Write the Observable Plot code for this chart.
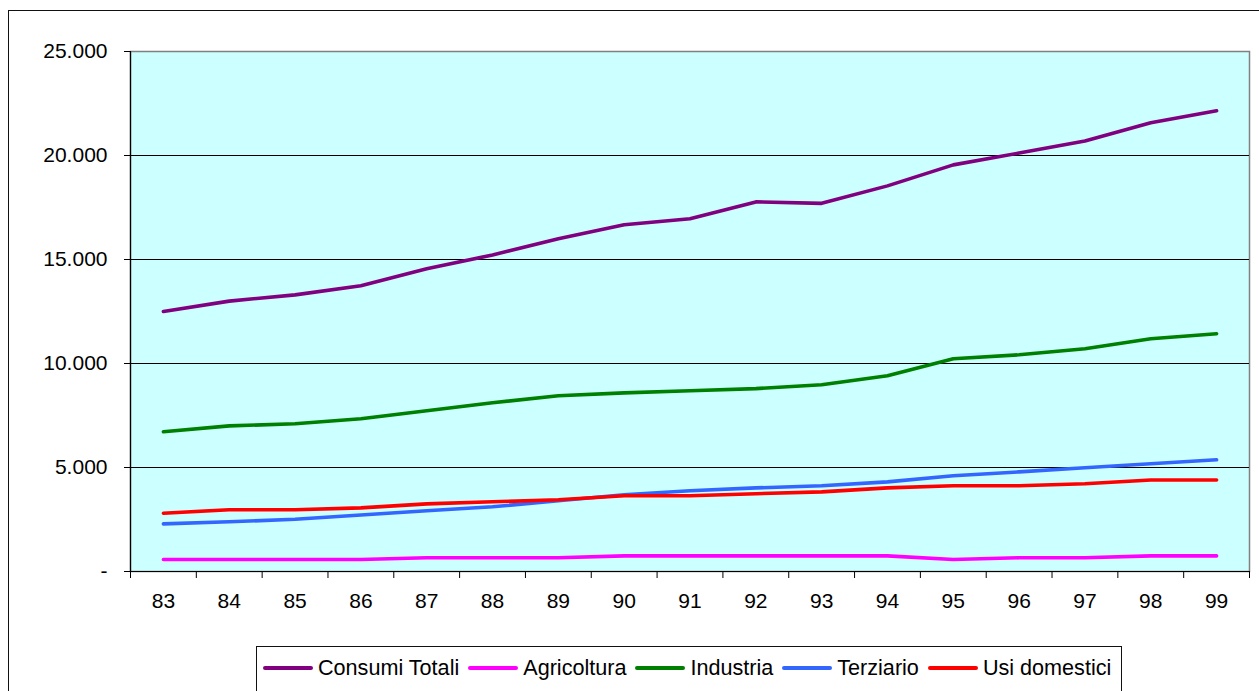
<!DOCTYPE html>
<html>
<head>
<meta charset="utf-8">
<script src="https://cdn.jsdelivr.net/npm/d3@7"></script>
<script src="https://cdn.jsdelivr.net/npm/@observablehq/plot@0.6"></script>
<style>
  html, body { margin: 0; padding: 0; background: #fff; width: 1259px; height: 691px; overflow: hidden; }
  body { position: relative; font-family: "Liberation Sans", Arial, sans-serif; }
  #border { position: absolute; left: 8px; top: 10px; width: 1300px; height: 720px; border: 1.5px solid #111; box-sizing: border-box; }
  #chart { position: absolute; left: 0; top: 0; }
  #legend { position: absolute; left: 256px; top: 646px; width: 866px; height: 50px; border: 1px solid #111; box-sizing: border-box;
            display: flex; align-items: flex-start; padding: 8px 0 0 6px; font-size: 21.6px; color: #000; background: #fff; }
  .item { display: flex; align-items: center; margin-right: 9px; }
  .sw { width: 50px; height: 4px; margin-right: 5px; border-radius: 2px; }
</style>
</head>
<body>
<div id="border"></div>
<div id="chart"></div>
<div id="legend"></div>
<script>
const years = [83, 84, 85, 86, 87, 88, 89, 90, 91, 92, 93, 94, 95, 96, 97, 98, 99];
const seriesNames = ["Consumi Totali", "Agricoltura", "Industria", "Terziario", "Usi domestici"];
const seriesColors = ["#800080", "#FF00FF", "#008000", "#3366FF", "#FF0000"];
const consumiTotali = [12500, 13000, 13300, 13740, 14550, 15220, 16000, 16670, 16960, 17770, 17700, 18540, 19550, 20120, 20700, 21570, 22150];
const agricoltura   = [580, 580, 580, 580, 660, 660, 660, 750, 750, 750, 750, 750, 580, 660, 660, 750, 750];
const industria     = [6720, 7000, 7100, 7340, 7730, 8110, 8450, 8590, 8690, 8790, 8980, 9410, 10230, 10420, 10710, 11190, 11430];
const terziario     = [2290, 2390, 2510, 2720, 2920, 3110, 3400, 3690, 3880, 4020, 4120, 4310, 4600, 4790, 4990, 5180, 5370];
const usiDomestici  = [2800, 2970, 2970, 3060, 3250, 3350, 3450, 3640, 3640, 3740, 3830, 4020, 4120, 4120, 4220, 4400, 4400];
const yTicks = [0, 5000, 10000, 15000, 20000, 25000];

const allSeries = [consumiTotali, agricoltura, industria, terziario, usiDomestici];
const data = [];
allSeries.forEach((vals, i) => vals.forEach((v, j) => data.push({series: seriesNames[i], year: years[j], value: v})));

const xDomain = [years[0] - 0.5, years[years.length - 1] + 0.5];
const boundaries = years.map(y => y - 0.5).concat([years[years.length - 1] + 0.5]);
const loc = d3.formatLocale({decimal: ",", thousands: ".", grouping: [3], currency: ["", ""]});
const fmt = loc.format(",d");

const chart = Plot.plot({
  width: 1259,
  height: 620,
  marginLeft: 130,
  marginRight: 10,
  marginTop: 51,
  marginBottom: 49,
  style: {fontFamily: "'Liberation Sans', Arial, sans-serif", fontSize: "21px", color: "#000", background: "transparent", overflow: "visible"},
  x: {type: "linear", domain: xDomain},
  y: {domain: [yTicks[0], yTicks[yTicks.length - 1]]},
  color: {domain: seriesNames, range: seriesColors},
  marks: [
    Plot.frame({fill: "#CCFFFF", stroke: "#808080", strokeWidth: 1.5}),
    Plot.ruleY(yTicks.slice(1, -1), {stroke: "#000", strokeWidth: 1}),
    Plot.line(data, {x: "year", y: "value", z: "series", stroke: "series", strokeWidth: 3.6, strokeLinejoin: "round", strokeLinecap: "round"}),
    Plot.ruleX([xDomain[0]], {stroke: "#000", strokeWidth: 1.2}),
    Plot.ruleY([yTicks[0]], {stroke: "#000", strokeWidth: 1.2}),
    Plot.axisY({ticks: yTicks, tickSize: 6, tickPadding: 17, tickFormat: d => d === 0 ? "-" : fmt(d), fontSize: 21, label: null, stroke: "#000"}),
    Plot.axisX({ticks: years, tickSize: 0, tickPadding: 22, tickFormat: d => String(d), fontSize: 21, label: null}),
    Plot.axisX({ticks: boundaries, tickSize: 7, tickFormat: () => "", label: null, stroke: "#000"})
  ]
});
document.getElementById("chart").appendChild(chart);

const legend = document.getElementById("legend");
seriesNames.forEach((name, i) => {
  const it = document.createElement("div");
  it.className = "item";
  const sw = document.createElement("div");
  sw.className = "sw";
  sw.style.background = seriesColors[i];
  const t = document.createElement("span");
  t.textContent = name;
  it.appendChild(sw); it.appendChild(t);
  legend.appendChild(it);
});
</script>
</body>
</html>
